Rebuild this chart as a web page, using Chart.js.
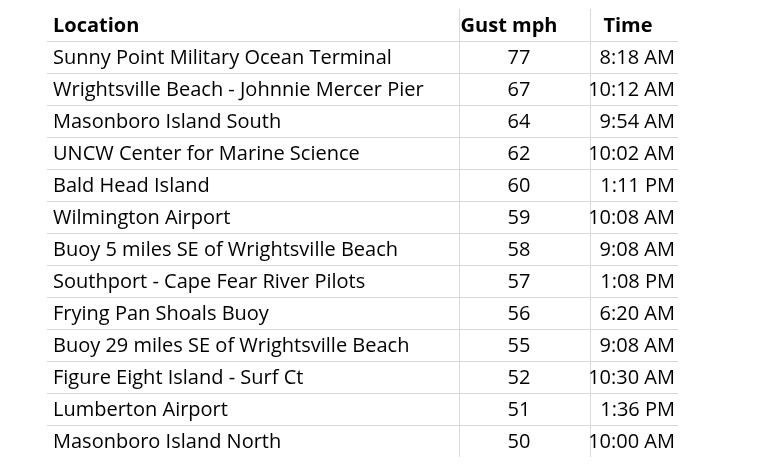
<!DOCTYPE html>
<html>
<head>
<meta charset="utf-8">
<script src="https://cdn.jsdelivr.net/npm/chart.js@4"></script>
<style>
  html, body { margin: 0; padding: 0; background: #fff; }
  #wrap { width: 759px; height: 468px; }
</style>
</head>
<body>
<div id="wrap"><canvas id="c"></canvas></div>
<script>
const headers = ['Location', 'Gust mph', 'Time'];
const locations = [
  'Sunny Point Military Ocean Terminal',
  'Wrightsville Beach - Johnnie Mercer Pier',
  'Masonboro Island South',
  'UNCW Center for Marine Science',
  'Bald Head Island',
  'Wilmington Airport',
  'Buoy 5 miles SE of Wrightsville Beach',
  'Southport - Cape Fear River Pilots',
  'Frying Pan Shoals Buoy',
  'Buoy 29 miles SE of Wrightsville Beach',
  'Figure Eight Island - Surf Ct',
  'Lumberton Airport',
  'Masonboro Island North'
];
const gusts = [77, 67, 64, 62, 60, 59, 58, 57, 56, 55, 52, 51, 50];
const times = ['8:18 AM', '10:12 AM', '9:54 AM', '10:02 AM', '1:11 PM', '10:08 AM', '9:08 AM',
  '1:08 PM', '6:20 AM', '9:08 AM', '10:30 AM', '1:36 PM', '10:00 AM'];

const rowLabels = ['header'].concat(locations);

// draws the table cells on the category rows of the y scale
const tablePlugin = {
  id: 'table',
  afterDraw(chart) {
    const ctx = chart.ctx;
    const y = chart.scales.y, x = chart.scales.x;
    const left = x.getPixelForValue(47), right = x.getPixelForValue(678);
    const v1 = x.getPixelForValue(459), v2 = x.getPixelForValue(590);
    const step = y.getPixelForValue(1) - y.getPixelForValue(0);
    ctx.save();
    ctx.strokeStyle = '#d9d9d9';
    ctx.lineWidth = 1;
    for (let i = 0; i < rowLabels.length - 1; i++) {
      const ly = Math.round(y.getPixelForValue(i) + step / 2) + 0.5;
      ctx.beginPath(); ctx.moveTo(left, ly); ctx.lineTo(right, ly); ctx.stroke();
    }
    const top = y.getPixelForValue(0) - step / 2, bot = y.getPixelForValue(rowLabels.length - 1) + step / 2;
    [v1, v2].forEach(vx => {
      ctx.beginPath(); ctx.moveTo(Math.round(vx) + 0.5, top); ctx.lineTo(Math.round(vx) + 0.5, bot); ctx.stroke();
    });

    // fit font width to the reference's Calibri metrics
    ctx.font = '20px "Open Sans"';
    const w = ctx.measureText(locations[0]).width;
    const size = Math.min(20, 20 * 338 / w);
    ctx.textBaseline = 'middle';
    ctx.fillStyle = '#000';
    const colText = (row, a, b, c, bold) => {
      const py = y.getPixelForValue(row) + 1;
      ctx.font = (bold ? 'bold ' : '') + size.toFixed(1) + 'px "Open Sans"';
      ctx.textAlign = 'left'; ctx.fillText(a, x.getPixelForValue(53), py);
      ctx.textAlign = 'center'; ctx.fillText(b, x.getPixelForValue(bold ? 509 : 519), py);
      ctx.textAlign = bold ? 'center' : 'right'; ctx.fillText(c, x.getPixelForValue(bold ? 628 : 675), py);
    };
    colText(0, headers[0], headers[1], headers[2], true);
    locations.forEach((loc, i) => colText(i + 1, loc, String(gusts[i]), times[i], false));
    ctx.restore();
  }
};

new Chart(document.getElementById('c'), {
  type: 'scatter',
  data: { datasets: [{ data: [], pointRadius: 0 }] },
  options: {
    responsive: true,
    maintainAspectRatio: false,
    animation: false,
    layout: { padding: { top: 9, bottom: 11, left: 0, right: 0 } },
    plugins: { legend: { display: false }, tooltip: { enabled: false } },
    scales: {
      x: { type: 'linear', min: 0, max: 759, display: false },
      y: { type: 'category', labels: rowLabels, offset: true, display: false }
    }
  },
  plugins: [tablePlugin]
});
</script>
</body>
</html>
